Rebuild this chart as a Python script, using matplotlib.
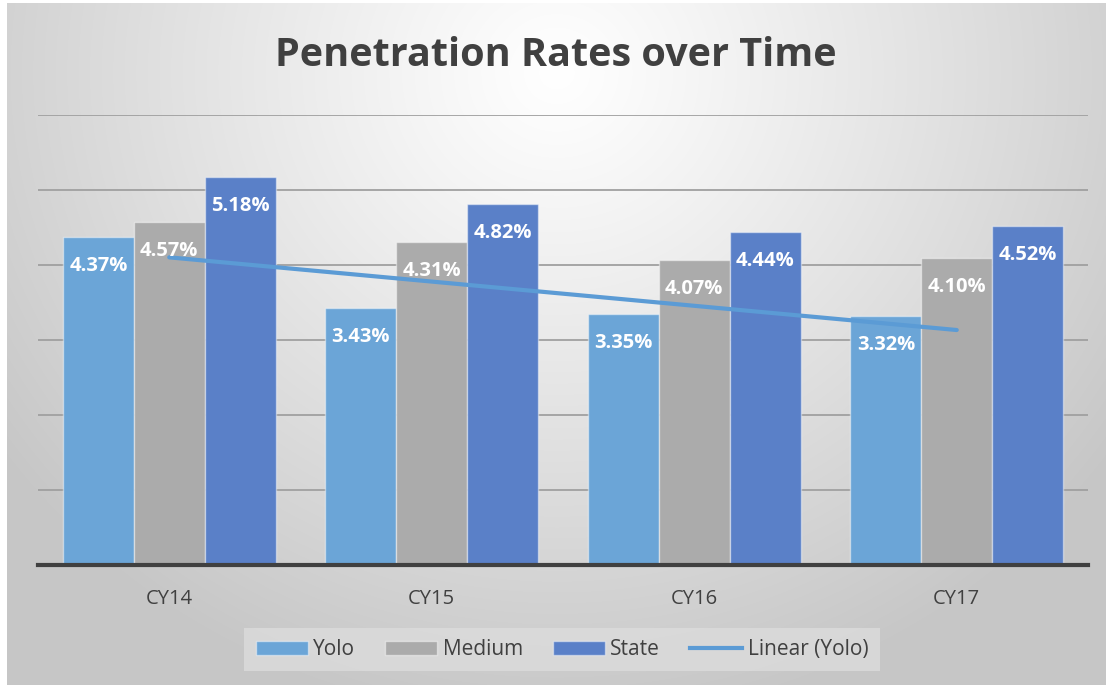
import numpy as np
import matplotlib
matplotlib.use("Agg")
import matplotlib.pyplot as plt
from matplotlib.patches import Patch
from matplotlib.lines import Line2D

categories = ["CY14", "CY15", "CY16", "CY17"]
yolo = [4.37, 3.43, 3.35, 3.32]
medium = [4.57, 4.31, 4.07, 4.10]
state = [5.18, 4.82, 4.44, 4.52]
series_names = ["Yolo", "Medium", "State"]
colors = ["#6BA5D7", "#ABABAB", "#5A80C8"]
trend_color = "#5B9BD5"

plt.rcParams['font.family'] = ['Open Sans', 'DejaVu Sans']

W, H = 1111, 688
fig = plt.figure(figsize=(W / 100, H / 100), dpi=100)
fig.patch.set_facecolor("white")

# background radial gradient
bg = fig.add_axes([7 / W, 3 / H, (W - 12) / W, (H - 6) / H])
yy, xx = np.mgrid[0:H, 0:W]
cx, cy = W * 0.5, 70
d = np.sqrt(((xx - cx) / (W * 0.62)) ** 2 + ((yy - cy) / (H * 0.95)) ** 2)
d = np.clip(d, 0, 1)
val = 1.0 - 0.22 * d ** 1.1
img = np.dstack([val, val, val])
bg.imshow(img, aspect="auto", extent=[0, 1, 0, 1], origin="upper")
bg.set_axis_off()

ax = fig.add_axes([38 / W, (H - 565) / H, (1088 - 38) / W, (565 - 115) / H])
ax.patch.set_alpha(0)
x = np.arange(len(categories))
bw = 0.27
offsets = [-bw, 0, bw]
for vals, name, col, off in zip([yolo, medium, state], series_names, colors, offsets):
    ax.bar(x + off, vals, width=bw, color=col, edgecolor=(1, 1, 1, 0.45),
           linewidth=1.0, zorder=2, label=name)
    for xi, v in zip(x + off, vals):
        ax.annotate(f"{v:.2f}%", (xi, v), xytext=(0, -21), textcoords="offset points",
                    ha="center", va="center", color="white", fontsize=14.5,
                    fontweight="bold", zorder=5)

coef = np.polyfit(x, yolo, 1)
ax.plot(x, np.polyval(coef, x), color=trend_color, linewidth=3, zorder=4,
        solid_capstyle="round", label="Linear (Yolo)")

ax.set_ylim(0, 6)
ax.set_xlim(-0.5, 3.5)
ax.set_yticks(np.arange(0, 7, 1))
ax.yaxis.grid(True, color="#A0A0A0", linewidth=1.3, zorder=0)
ax.set_axisbelow(True)
ax.tick_params(axis="y", left=False, labelleft=False)
ax.tick_params(axis="x", bottom=False, pad=14, labelsize=14.5, labelcolor="#404040")
ax.set_xticks(x)
ax.set_xticklabels(categories)
for s in ["top", "right", "left"]:
    ax.spines[s].set_visible(False)
ax.spines["bottom"].set_color("#404040")
ax.spines["bottom"].set_linewidth(3)
ax.spines["bottom"].set_zorder(6)

fig.text(0.5, (H - 55) / H, "Penetration Rates over Time", ha="center", va="center",
         fontsize=28.5, fontweight="bold", color="#404040")

handles = [Patch(facecolor=c, edgecolor=(1, 1, 1, 0.45)) for c in colors] + \
          [Line2D([0], [0], color=trend_color, linewidth=3)]
labels = series_names + ["Linear (Yolo)"]
leg = fig.legend(handles, labels, loc="center", bbox_to_anchor=(562 / W, (H - 649.5) / H),
                 ncol=4, frameon=True, fontsize=15, handlelength=2.5, handleheight=0.67,
                 columnspacing=1.45, handletextpad=0.25, borderpad=0.55, borderaxespad=0,
                 fancybox=False)
leg.get_frame().set_facecolor("#DCDCDC")
leg.get_frame().set_edgecolor("none")
for t in leg.get_texts():
    t.set_color("#404040")

fig.savefig("out.png", dpi=100)
